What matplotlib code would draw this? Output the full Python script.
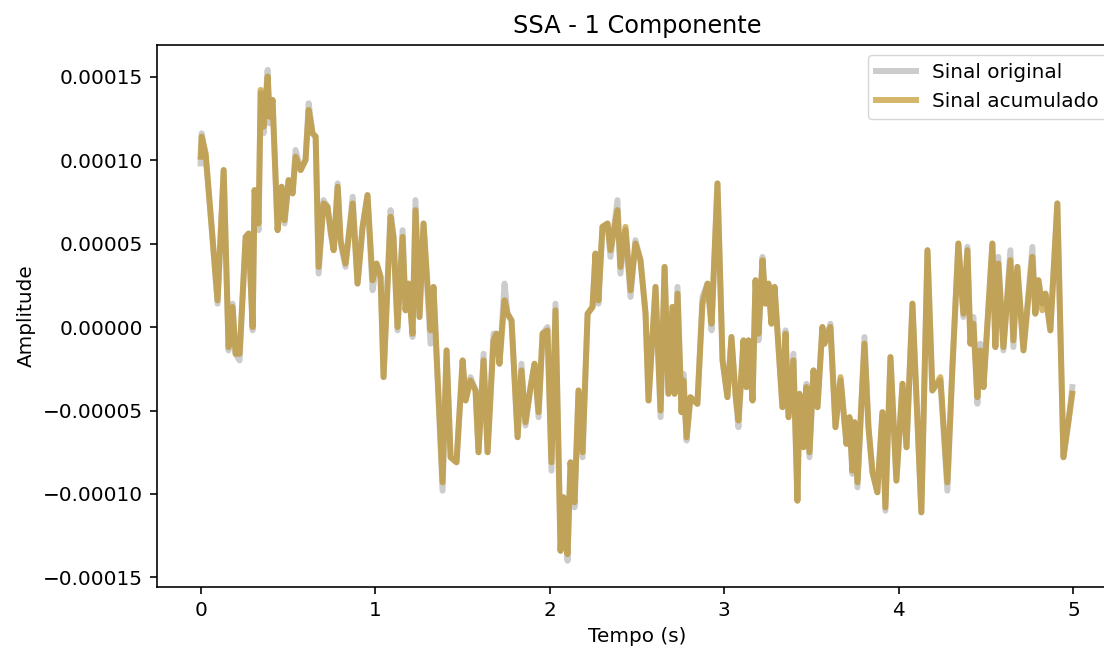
"""SSA - 1 componente: sinal original vs sinal acumulado."""
import numpy as np
import matplotlib
matplotlib.use("Agg")
import matplotlib.pyplot as plt

# valores (tempo em s, amplitude em unidades de 1e-5)
tempo = [
    0.000, 0.006, 0.029, 0.063, 0.097, 0.132, 0.160, 0.183, 0.200, 0.223,
    0.258, 0.275, 0.298, 0.309, 0.332, 0.344, 0.361, 0.384, 0.395, 0.412,
    0.441, 0.464, 0.481, 0.504, 0.527, 0.544, 0.573, 0.601, 0.619, 0.641,
    0.659, 0.676, 0.704, 0.727, 0.745, 0.762, 0.785, 0.802, 0.830, 0.871,
    0.899, 0.928, 0.956, 0.985, 1.008, 1.031, 1.048, 1.088, 1.105, 1.128,
    1.157, 1.174, 1.191, 1.214, 1.231, 1.254, 1.277, 1.317, 1.334, 1.386,
    1.409, 1.432, 1.466, 1.501, 1.518, 1.546, 1.575, 1.592, 1.621, 1.644,
    1.678, 1.695, 1.712, 1.741, 1.758, 1.781, 1.816, 1.838, 1.861, 1.890,
    1.913, 1.936, 1.959, 1.987, 2.010, 2.033, 2.062, 2.079, 2.102, 2.119,
    2.142, 2.165, 2.188, 2.217, 2.245, 2.262, 2.279, 2.302, 2.331, 2.348,
    2.388, 2.405, 2.434, 2.463, 2.491, 2.520, 2.549, 2.566, 2.606, 2.635,
    2.658, 2.680, 2.703, 2.715, 2.732, 2.755, 2.766, 2.784, 2.806, 2.846,
    2.875, 2.904, 2.927, 2.961, 2.990, 3.018, 3.041, 3.064, 3.081, 3.110,
    3.127, 3.139, 3.162, 3.179, 3.196, 3.219, 3.236, 3.253, 3.270, 3.288,
    3.333, 3.351, 3.368, 3.396, 3.419, 3.431, 3.454, 3.471, 3.488, 3.511,
    3.534, 3.562, 3.574, 3.608, 3.637, 3.666, 3.700, 3.717, 3.734, 3.746,
    3.763, 3.803, 3.826, 3.849, 3.877, 3.906, 3.923, 3.952, 3.986, 4.021,
    4.044, 4.078, 4.129, 4.164, 4.192, 4.238, 4.278, 4.307, 4.341, 4.370,
    4.393, 4.410, 4.427, 4.450, 4.467, 4.485, 4.536, 4.553, 4.570, 4.599,
    4.639, 4.656, 4.679, 4.714, 4.765, 4.782, 4.800, 4.822, 4.840, 4.868,
    4.908, 4.943, 4.971, 4.994,
]

sinal_acumulado = [
    10.2, 11.4, 10.4, 6.0, 1.6, 9.4, -1.2, 1.2, -1.6, -1.6,
    5.4, 5.6, 0.0, 8.2, 6.2, 14.2, 12.0, 15.0, 12.6, 13.6,
    5.8, 8.4, 6.4, 8.8, 8.0, 10.2, 9.4, 10.0, 13.0, 11.6,
    11.4, 3.6, 7.4, 7.2, 5.8, 4.6, 8.4, 5.2, 3.8, 7.4,
    2.6, 6.0, 7.9, 2.8, 3.8, 3.0, -3.0, 6.6, 5.4, 0.0,
    5.4, 1.0, 2.6, -0.4, 7.0, 0.6, 6.2, -0.2, 2.4, -9.3,
    -1.4, -7.8, -8.1, -2.0, -4.4, -3.2, -3.8, -7.5, -2.0, -7.5,
    -0.8, -0.4, -2.2, 1.6, 0.8, 0.4, -6.6, -2.6, -5.7, -3.6,
    -2.2, -5.1, -0.4, -0.2, -8.1, 1.0, -13.4, -10.2, -13.6, -8.1,
    -10.5, -3.8, -7.5, 0.8, 1.2, 4.4, 1.6, 6.0, 6.2, 4.6,
    7.0, 3.6, 6.0, 2.2, 5.0, 4.0, 0.8, -4.4, 2.4, -5.0,
    3.6, -4.0, 1.2, -4.0, 2.0, -5.1, -3.2, -6.6, -4.2, -4.6,
    1.4, 2.6, 0.2, 8.6, -2.0, -4.2, -0.6, -4.0, -5.6, -0.8,
    -3.6, -0.8, -4.4, 2.8, -0.4, 4.0, 1.4, 2.6, 0.2, 2.4,
    -4.8, -0.4, -5.4, -2.0, -10.4, -4.0, -7.2, -3.6, -7.5, -2.6,
    -4.8, 0.0, -1.0, 0.0, -6.0, -3.0, -7.0, -5.4, -8.6, -5.7,
    -9.3, -1.0, -6.0, -8.7, -9.9, -5.1, -10.8, -1.8, -9.2, -3.4,
    -7.2, 1.4, -11.1, 4.6, -3.8, -3.0, -9.3, -2.4, 5.0, 0.8,
    4.6, -1.0, 0.2, -4.2, -1.4, -3.6, 5.0, -1.2, 3.8, -1.2,
    4.0, -0.8, 3.6, -1.4, 4.2, 0.8, 2.8, 1.0, 2.0, -0.2,
    7.4, -7.8, -5.7, -4.0,
]

sinal_original = [
    9.8, 11.6, 10.2, 6.0, 1.4, 9.4, -1.4, 1.4, -1.6, -2.0,
    5.4, 5.6, -0.2, 8.2, 5.8, 14.0, 11.6, 15.4, 12.2, 13.6,
    5.8, 8.4, 6.2, 8.8, 8.0, 10.6, 9.4, 10.0, 13.4, 11.6,
    11.4, 3.2, 7.6, 7.2, 5.6, 4.6, 8.6, 5.0, 3.6, 7.8,
    2.6, 6.0, 7.9, 2.2, 3.8, 3.0, -3.0, 7.0, 5.4, -0.2,
    5.8, 1.0, 2.6, -0.6, 7.6, 0.6, 6.2, -1.0, 2.4, -9.8,
    -1.4, -7.8, -8.1, -2.0, -4.4, -3.0, -3.8, -7.5, -1.6, -7.5,
    -0.4, -0.4, -2.2, 2.6, 0.8, 0.4, -6.6, -2.2, -5.9, -3.6,
    -2.2, -5.4, -0.4, 0.0, -8.6, 1.4, -13.4, -10.2, -14.0, -8.1,
    -10.8, -3.8, -7.8, 0.8, 1.2, 4.4, 1.4, 6.0, 6.2, 4.2,
    7.6, 3.2, 5.8, 1.8, 5.2, 4.0, 0.8, -4.4, 2.4, -5.4,
    3.6, -4.0, 1.2, -4.0, 2.4, -5.1, -2.8, -6.8, -4.2, -4.6,
    1.8, 2.6, -0.2, 8.6, -2.0, -4.2, -0.6, -4.0, -6.0, -0.8,
    -3.6, -0.8, -4.4, 2.8, -0.8, 4.2, 1.4, 2.6, 0.2, 2.4,
    -4.8, -0.2, -5.4, -1.6, -10.4, -4.0, -7.2, -3.4, -7.8, -2.6,
    -4.8, 0.0, -1.0, 0.2, -6.0, -3.2, -7.0, -5.4, -8.8, -5.7,
    -9.6, -0.6, -6.0, -8.7, -9.9, -5.1, -11.0, -1.8, -9.2, -3.4,
    -7.2, 1.4, -11.1, 4.6, -3.8, -3.2, -9.8, -2.4, 5.0, 0.6,
    4.8, -1.0, 0.6, -4.6, -1.0, -3.6, 5.0, -1.2, 4.2, -1.4,
    4.6, -1.2, 3.6, -1.4, 4.8, 0.8, 2.8, 1.4, 2.0, -0.2,
    7.4, -7.8, -5.7, -3.6,
]

t = np.array(tempo)
orig = np.array(sinal_original) * 1e-5
acum = np.array(sinal_acumulado) * 1e-5

fs = 14.4
fig = plt.figure(figsize=(11.04, 6.51), dpi=100)
ax = fig.add_axes([0.1422, 0.0983, 0.8696, 0.8326])

ax.plot(t, orig, color="gray", alpha=0.4, lw=4.3, label="Sinal original")
ax.plot(t, acum, color="darkgoldenrod", alpha=0.6, lw=4.3, label="Sinal acumulado")

ax.set_xlim(-0.25, 5.25)
ax.set_ylim(-1.557e-4, 1.689e-4)
ax.set_yticks([-0.00015, -0.0001, -0.00005, 0.0, 0.00005, 0.0001, 0.00015])
ax.set_yticklabels(["\u22120.00015", "\u22120.00010", "\u22120.00005", "0.00000",
                    "0.00005", "0.00010", "0.00015"])
ax.tick_params(labelsize=fs, length=5.1, width=1.17, pad=5)
for s in ax.spines.values():
    s.set_linewidth(1.17)

ax.set_title("SSA - 1 Componente", fontsize=fs * 1.2, pad=8.5)
ax.set_xlabel("Tempo (s)", fontsize=fs, labelpad=5)
ax.set_ylabel("Amplitude", fontsize=fs, labelpad=5)
ax.legend(loc="upper right", fontsize=fs)

fig.savefig("out.png", dpi=100)
